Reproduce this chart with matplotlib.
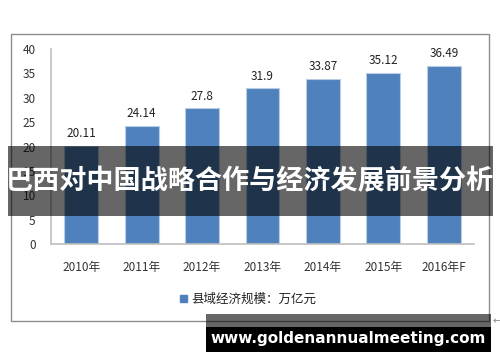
import matplotlib
matplotlib.use("Agg")
import matplotlib.pyplot as plt
from matplotlib.patches import Rectangle

plt.rcParams['font.family'] = ['Noto Sans CJK SC', 'DejaVu Sans']

# data
years = ['2010年', '2011年', '2012年', '2013年', '2014年', '2015年', '2016年F']
values = [20.11, 24.14, 27.8, 31.9, 33.87, 35.12, 36.49]
legend_label = '县域经济规模：万亿元'
banner_title = '巴西对中国战略合作与经济发展前景分析'
site = 'www.goldenannualmeeting.com'

W, H = 500, 362


def fx(px):
    return px / W


def fy(py):
    return 1 - py / H


def box(x0, y0, x1, y1, **kw):
    # rectangle in pixel coords (top-left origin)
    r = Rectangle((fx(x0), fy(y1)), fx(x1) - fx(x0), fy(y0) - fy(y1),
                  transform=fig.transFigure, **kw)
    fig.add_artist(r)
    return r


fig = plt.figure(figsize=(W / 100, H / 100), dpi=100, facecolor='white')

# chart frame
box(11, 34, 489, 321, fill=False, edgecolor='#8c8c8c', lw=1.0, zorder=1)

ax = fig.add_axes([fx(51), fy(244), fx(474) - fx(51), fy(49) - fy(244)])
x = range(len(years))
bars = ax.bar(x, values, width=0.56, color='#4F81BD', edgecolor='#B9CDE5',
              linewidth=0.8, label=legend_label, zorder=2)
for xi, v in zip(x, values):
    ax.text(xi, v + 1.2, f'{v:g}', ha='center', va='bottom', fontsize=8.5,
            color='#222222')

ax.set_xlim(-0.5, len(years) - 0.5)
ax.set_ylim(0, 40)
ax.set_yticks(range(0, 41, 5))
ax.set_xticks(list(x))
ax.set_xticklabels(years, fontsize=8.5, color='#333333')
ax.tick_params(axis='both', length=0, labelsize=8.5, colors='#333333')
ax.tick_params(axis='x', pad=12)
ax.tick_params(axis='y', pad=11)
for s in ['top', 'right']:
    ax.spines[s].set_visible(False)
for s in ['left', 'bottom']:
    ax.spines[s].set_color('#BFBFBF')
    ax.spines[s].set_linewidth(1.2)

# legend
box(180, 295, 187, 302, color='#4F81BD', zorder=3)
fig.text(fx(191), fy(299), legend_label, fontsize=9, color='#222222',
         ha='left', va='center')

# overlay banner
box(8, 146, 493, 216, color='black', alpha=0.6, lw=0, zorder=5)
fig.text(0.5, fy(181), banner_title, color='white', fontsize=19.5,
         fontweight='bold', ha='center', va='center', zorder=6)

# site watermark
box(206, 314, 491, 327, color='black', alpha=0.6, lw=0, zorder=5)
box(206, 327, 491, 352, color='black', lw=0, zorder=5)
fig.text(fx(348), fy(339), site, color='white', fontsize=11,
         fontweight='bold', ha='center', va='center', zorder=6,
         family=['DejaVu Sans'])
fig.text(fx(497), fy(321), '←', color='#888888', fontsize=7,
         ha='center', va='center', family=['DejaVu Sans'])

fig.savefig('out.png', dpi=100)
